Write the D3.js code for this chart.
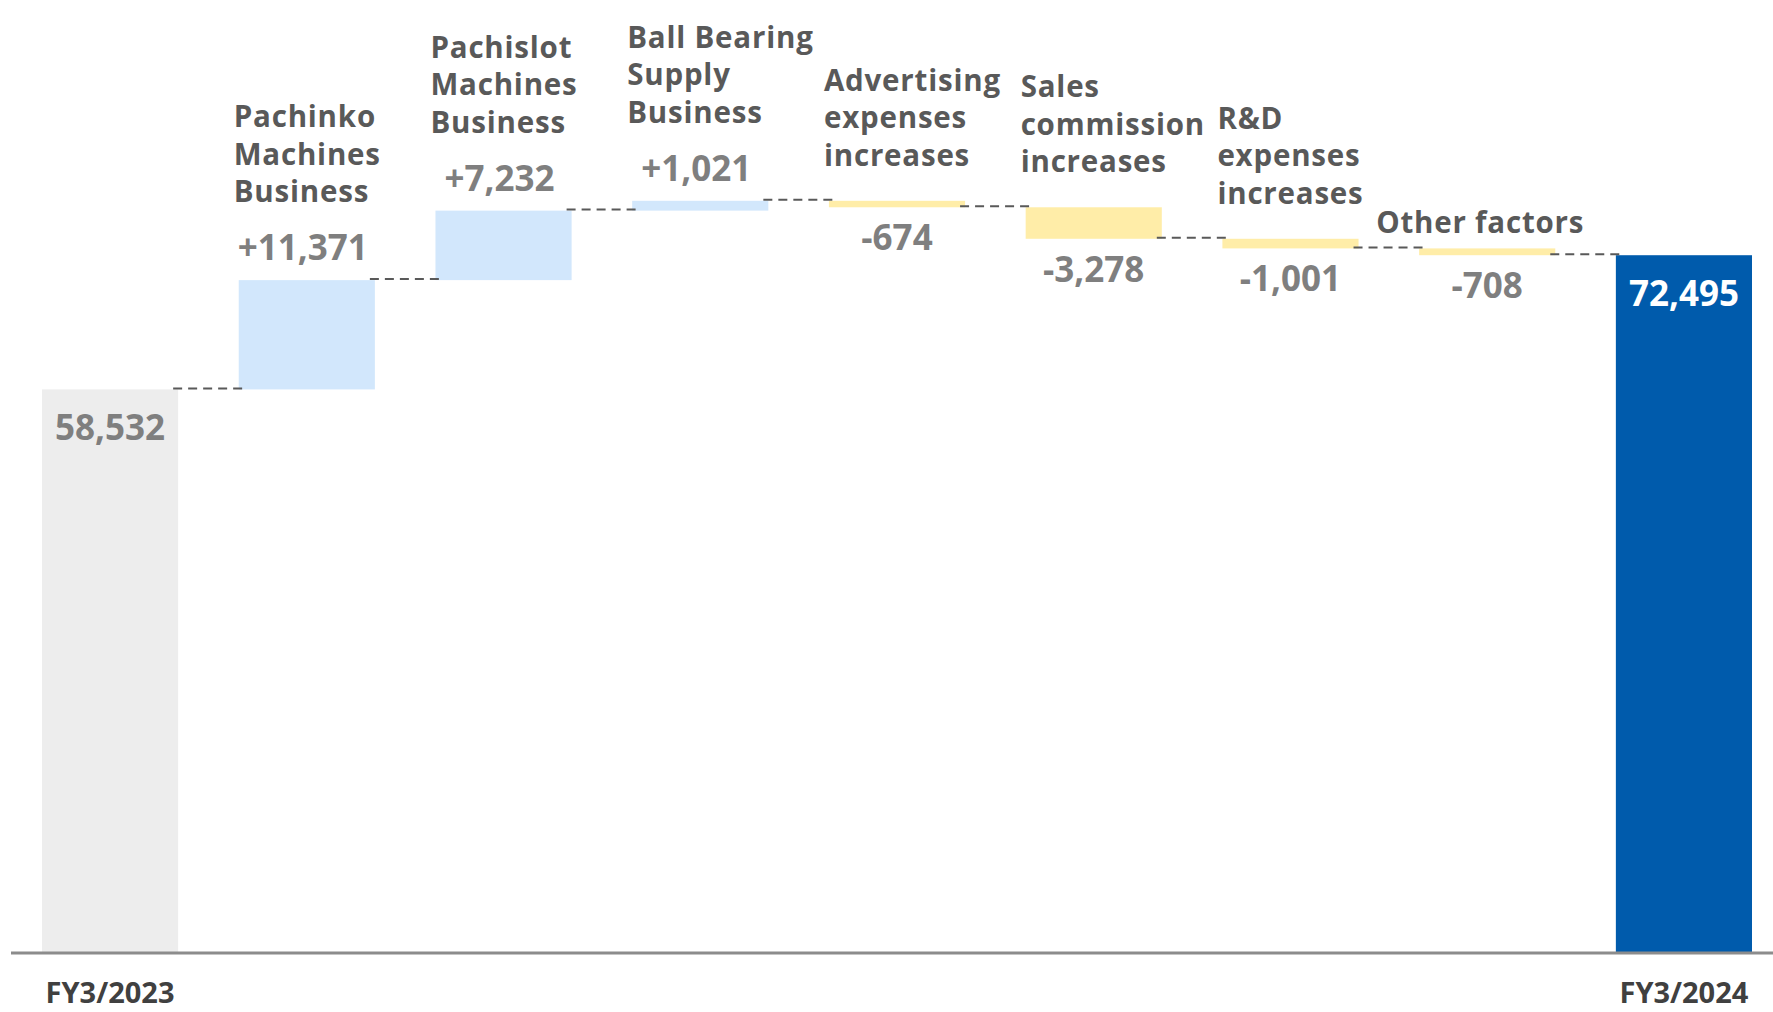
<!DOCTYPE html>
<html>
<head>
<meta charset="utf-8">
<script src="https://cdn.jsdelivr.net/npm/d3@7/dist/d3.min.js"></script>
<style>
  html, body { margin: 0; padding: 0; background: #ffffff; }
  svg { display: block; }
  text { font-family: "Open Sans", "Noto Sans", sans-serif; font-weight: 700; }
</style>
</head>
<body>
<div id="chart"></div>
<script>
// Operating-profit bridge: FY3/2023 → FY3/2024 (millions of yen)
const startLabel = "FY3/2023";
const endLabel = "FY3/2024";
const startValue = 58532;
const endValue = 72495;

const factorNames = [
  ["Pachinko", "Machines", "Business"],
  ["Pachislot", "Machines", "Business"],
  ["Ball Bearing", "Supply", "Business"],
  ["Advertising", "expenses", "increases"],
  ["Sales", "commission", "increases"],
  ["R&D", "expenses", "increases"],
  ["Other factors"]
];
const factorValues = [11371, 7232, 1021, -674, -3278, -1001, -708];

const colors = {
  start: "#EDEDED",
  up: "#D2E7FC",
  down: "#FFEDA8",
  end: "#005BAC",
  value: "#7F7F7F",
  name: "#595959",
  axisText: "#404040",
  connector: "#595959",
  axis: "#8C8C8C"
};

const W = 1773, H = 1012;
const baseY = 952;

// Build waterfall steps
const steps = [];
let running = startValue;
steps.push({ kind: "start", label: startLabel, lo: 0, hi: startValue, value: startValue, level: startValue });
factorValues.forEach((v, i) => {
  const prev = running;
  running += v;
  steps.push({
    kind: v >= 0 ? "up" : "down",
    name: factorNames[i],
    lo: Math.min(prev, running),
    hi: Math.max(prev, running),
    value: v,
    level: running
  });
});
steps.push({ kind: "end", label: endLabel, lo: 0, hi: endValue, value: endValue, level: endValue });

const peak = d3.max(steps, d => d.hi);

const x = d3.scaleBand()
  .domain(d3.range(steps.length))
  .range([42, 1752])
  .paddingInner(0.308)
  .paddingOuter(0);

const y = d3.scaleLinear()
  .domain([0, peak])
  .range([baseY, 200.8]);

const fmtChange = d3.formatLocale({
  decimal: ".", thousands: ",", grouping: [3], currency: ["", ""], minus: "-"
}).format("+,");
const fmtTotal = d3.format(",");

const svg = d3.select("#chart").append("svg")
  .attr("width", W).attr("height", H)
  .attr("viewBox", `0 0 ${W} ${H}`);

// Bars
svg.append("g").selectAll("rect")
  .data(steps)
  .join("rect")
  .attr("x", (d, i) => x(i))
  .attr("width", x.bandwidth())
  .attr("y", d => y(d.hi))
  .attr("height", d => y(d.lo) - y(d.hi))
  .attr("fill", d => colors[d.kind]);

// Dashed connectors between consecutive bars
const links = steps.slice(0, -1).map((d, i) => ({ i, level: d.level }));
svg.append("g").selectAll("line")
  .data(links)
  .join("line")
  .attr("x1", d => x(d.i) + x.bandwidth() - 5)
  .attr("x2", d => x(d.i + 1) + 4)
  .attr("y1", d => y(d.level) - 1)
  .attr("y2", d => y(d.level) - 1)
  .attr("stroke", colors.connector)
  .attr("stroke-width", 2)
  .attr("stroke-dasharray", "9,6");

// Baseline
svg.append("line")
  .attr("x1", 11).attr("x2", W)
  .attr("y1", baseY + 1).attr("y2", baseY + 1)
  .attr("stroke", colors.axis)
  .attr("stroke-width", 3);

// Value labels
const valueG = svg.append("g");
steps.forEach((d, i) => {
  const cx = x(i) + x.bandwidth() / 2;
  let ty, fill = colors.value, txt;
  if (d.kind === "start" || d.kind === "end") {
    ty = y(d.hi) + 51;
    txt = fmtTotal(d.value);
    if (d.kind === "end") fill = "#ffffff";
  } else if (d.kind === "up") {
    ty = y(d.hi) - 20;
    txt = fmtChange(d.value);
  } else {
    ty = y(d.lo) + 43;
    txt = fmtChange(d.value);
  }
  d.valueY = ty;
  valueG.append("text")
    .attr("x", d.kind === "up" ? cx - 4 : cx).attr("y", ty)
    .attr("text-anchor", "middle")
    .attr("font-size", 35)
    .attr("fill", fill)
    .text(txt);
});

// Factor names above each change bar
const nameG = svg.append("g");
const lineH = 37.5;
steps.forEach((d, i) => {
  if (!d.name) return;
  const lines = d.name;
  let lastY;
  if (d.kind === "up") lastY = d.valueY - 58;
  else lastY = lines.length > 1 ? y(d.hi) - 35 : y(d.hi) - 15;
  const single = lines.length === 1;
  const t = nameG.append("text")
    .attr("font-size", 29.5)
    .attr("font-weight", 600)
    .attr("letter-spacing", 0.8)
    .attr("fill", colors.name)
    .attr("text-anchor", single ? "middle" : "start");
  lines.forEach((ln, k) => {
    t.append("tspan")
      .attr("x", single ? x(i) + x.bandwidth() / 2 - 7 : x(i) - 5)
      .attr("y", lastY - (lines.length - 1 - k) * lineH)
      .text(ln);
  });
});

// Period labels under the total bars
svg.append("g").selectAll("text")
  .data(steps.filter(d => d.label).map(d => ({ d, i: steps.indexOf(d) })))
  .join("text")
  .attr("x", e => x(e.i) + x.bandwidth() / 2)
  .attr("y", 1003)
  .attr("text-anchor", "middle")
  .attr("font-size", 29)
  .attr("fill", colors.axisText)
  .text(e => e.d.label);
</script>
</body>
</html>
